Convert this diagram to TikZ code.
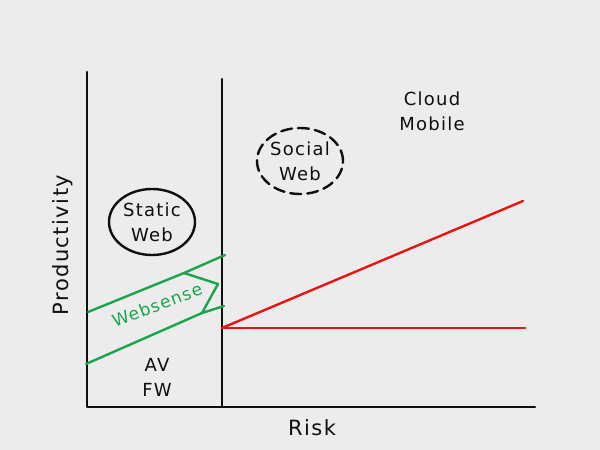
\documentclass[tikz,border=0pt]{standalone}
\usepackage{fontspec}
\setmainfont[LetterSpace=7]{DejaVu Sans}
\usetikzlibrary{positioning, shapes, arrows.meta, calc}
\definecolor{paper}{RGB}{236,236,236}
\definecolor{pen}{RGB}{15,15,15}
\definecolor{redpen}{RGB}{232,20,20}
\definecolor{greenpen}{RGB}{25,165,75}

\begin{document}
\begin{tikzpicture}[x=1pt, y=-1pt, line join=round, line cap=round,
    ink/.style={pen, line width=2.4pt},
    label/.style={text=pen, font=\fontsize{18}{25}\selectfont, align=center, inner sep=1pt},
    axislabel/.style={label, font=\fontsize{21}{25}\selectfont}]
  \fill[paper] (0,0) rectangle (600,450);
  \useasboundingbox (0,0) rectangle (600,450);
  % axes and wall
  \coordinate (o) at (87,407);
  \coordinate (ytop) at (87,72);
  \coordinate (xend) at (535,407);
  \coordinate (wall) at (222,407);
  \coordinate (walltop) at (222,79);
  \draw[ink] (ytop) -- (o) -- (xend);
  \draw[ink] (walltop) -- (wall);
  \node[axislabel] (risk) at (312,428) {Risk};
  \node[axislabel, rotate=90] (prod) at (63,245) {Productivity};
  % bubbles
  \node[label, draw=pen, line width=2.4pt, ellipse, inner sep=0pt, minimum width=86, minimum height=66] (static) at (152,222) {Static\\Web};
  \node[label, draw=pen, line width=2.4pt, ellipse, inner sep=0pt, dash pattern=on 11pt off 6pt, minimum width=86, minimum height=66] (social) at (300,161) {Social\\Web};
  \node[label] (cloud) at (432,111) {Cloud\\Mobile};
  \node[label] (avfw) at (157,377) {AV\\FW};
  % websense band
  \coordinate (g1) at (88,312);
  \coordinate (g2) at (184,273);
  \coordinate (g3) at (225,255);
  \coordinate (g4) at (86,364);
  \coordinate (g5) at (202,313);
  \coordinate (g6) at (224,306);
  \coordinate (tip) at (218,284);
  \draw[greenpen, line width=2.4pt] (g1) -- (g2) -- (g3);
  \draw[greenpen, line width=2.4pt] (g4) -- (g5) -- (g6);
  \draw[greenpen, line width=2.4pt] (g2) -- (tip) -- (g5);
  \node[label, text=greenpen, rotate=21, font=\fontsize{17}{20}\selectfont] (websense) at (157,305) {Websense};
  % risk lines
  \coordinate (r0) at (222,328);
  \coordinate (rup) at (523,201);
  \coordinate (rflat) at (525,328);
  \draw[redpen, line width=2.4pt] (r0) -- (rup);
  \draw[redpen, line width=2.4pt] (r0) -- (rflat);
\end{tikzpicture}
\end{document}
